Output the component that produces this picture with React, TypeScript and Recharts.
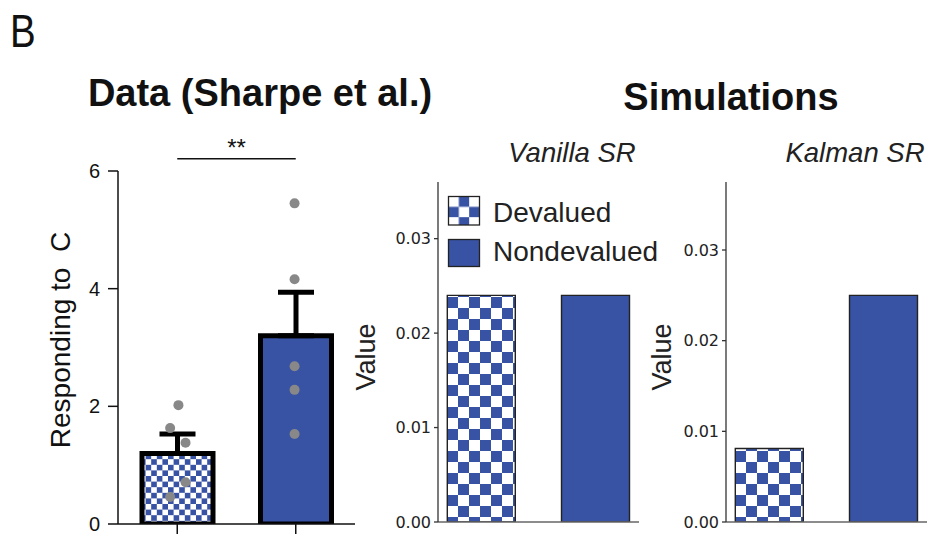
import React from 'react';
import {
  ComposedChart,
  Bar,
  Cell,
  XAxis,
  YAxis,
  Scatter,
  ErrorBar,
  ReferenceLine,
  Legend,
} from 'recharts';

// ---------- data ----------
const categories = ['Devalued', 'Nondevalued'];
const groupX = [1, 2];
const dataMeans = [1.2, 3.2];
const dataSem = [0.33, 0.74];
const devaluedPoints = [2.02, 1.63, 1.38, 0.71, 0.46];
const devaluedJitter = [0.01, -0.06, 0.07, 0.07, -0.06];
const nondevaluedPoints = [5.45, 4.16, 2.68, 2.28, 1.53];
const nondevaluedJitter = [-0.01, -0.01, -0.01, -0.01, -0.01];
const dataTicks = [0, 2, 4, 6];
const significanceLabel = '**';
const significanceLevel = 6.21;

const simX = [0, 1];
const vanillaValues = [0.024, 0.024];
const kalmanValues = [0.0081, 0.025];
const simTicks = [0, 0.01, 0.02, 0.03];

// ---------- styles ----------
const BLUE = '#3953A4';
const SANS = '"Liberation Sans", Arial, sans-serif';
const DEJAVU = '"DejaVu Sans", sans-serif';

const dataRows = categories.map((c, i) => ({
  x: groupX[i],
  name: c,
  mean: dataMeans[i],
  err: [0, dataSem[i]],
}));

const pointRows = [
  ...devaluedPoints.map((y, i) => ({ x: groupX[0] + devaluedJitter[i], y })),
  ...nondevaluedPoints.map((y, i) => ({ x: groupX[1] + nondevaluedJitter[i], y })),
];

const Checker = ({ id, size, x = 0, y = 0 }: { id: string; size: number; x?: number; y?: number }) => (
  <pattern id={id} x={x} y={y} width={size * 2} height={size * 2} patternUnits="userSpaceOnUse">
    <rect width={size * 2} height={size * 2} fill="#fff" />
    <rect x={size} y={0} width={size} height={size} fill={BLUE} />
    <rect x={0} y={size} width={size} height={size} fill={BLUE} />
  </pattern>
);

const Dot = (p: any) => <circle cx={p.cx} cy={p.cy} r={5} fill="#888888" />;
const NoTick = () => <g />;

function DataPanel() {
  const axisStyle = { stroke: '#111', strokeWidth: 1.5 };
  return (
    <ComposedChart
      width={370}
      height={534}
      data={dataRows}
      margin={{ top: 171, right: 15, bottom: 0, left: 0 }}
    >
      <defs>
        <Checker id="chkData" size={5.6} x={0} y={0} />
      </defs>
      <XAxis
        xAxisId="bars"
        type="number"
        dataKey="x"
        domain={[0.5, 2.5]}
        ticks={groupX}
        interval={0}
        tick={NoTick}
        tickSize={10}
        height={10}
        axisLine={axisStyle}
        tickLine={axisStyle}
        allowDataOverflow
      />
      <XAxis
        xAxisId="points"
        type="number"
        dataKey="x"
        domain={[0.5, 2.5]}
        hide
        allowDataOverflow
      />
      <YAxis
        type="number"
        domain={[0, 6]}
        ticks={dataTicks}
        interval={0}
        width={118}
        tickSize={10}
        tickMargin={8}
        tick={{ fontSize: 20, fill: '#111', fontFamily: SANS }}
        axisLine={axisStyle}
        tickLine={axisStyle}
        allowDataOverflow
      />
      <Bar xAxisId="bars" dataKey="mean" barSize={71} stroke="#000" strokeWidth={5} isAnimationActive={false}>
        {dataRows.map((r, i) => (
          <Cell key={r.name} fill={i === 0 ? 'url(#chkData)' : BLUE} />
        ))}
        <ErrorBar dataKey="err" width={18} strokeWidth={5} stroke="#000" direction="y" />
      </Bar>
      <Scatter xAxisId="points" data={pointRows} dataKey="y" isAnimationActive={false} shape={Dot} />
      <ReferenceLine
        xAxisId="bars"
        segment={[
          { x: groupX[0], y: significanceLevel },
          { x: groupX[1], y: significanceLevel },
        ]}
        stroke="#111"
        strokeWidth={1.5}
        ifOverflow="visible"
        label={{ value: significanceLabel, position: 'top', offset: 3, fontSize: 24, fill: '#111', fontFamily: SANS }}
      />
    </ComposedChart>
  );
}

const SimLegend = () => (
  <svg width={220} height={76} style={{ display: 'block', overflow: 'visible' }}>
    <defs>
      <Checker id="chkLegend" size={10.33} x={1.5} y={1.5} />
    </defs>
    {categories.map((c, i) => (
      <g key={c}>
        <rect
          x={1.5}
          y={i === 0 ? 1.5 : 44.5}
          width={31}
          height={i === 0 ? 28.5 : 27}
          fill={i === 0 ? 'url(#chkLegend)' : BLUE}
          stroke="#222"
          strokeWidth={1.3}
        />
        <text x={46} y={i === 0 ? 27 : 66} fontSize={28} fill="#222" fontFamily={SANS}>
          {c}
        </text>
      </g>
    ))}
  </svg>
);

function SimPanel({
  values,
  width,
  yAxisWidth,
  marginRight,
  patternId,
  showLegend,
}: {
  values: number[];
  width: number;
  yAxisWidth: number;
  marginRight: number;
  patternId: string;
  showLegend: boolean;
}) {
  const rows = categories.map((c, i) => ({ x: simX[i], name: c, value: values[i] }));
  const yMax = Math.max(...values) * 1.5;
  return (
    <ComposedChart
      width={width}
      height={534}
      data={rows}
      margin={{ top: 182, right: marginRight, bottom: 0, left: 0 }}
    >
      <defs>
        <Checker id={patternId} size={11} x={yAxisWidth + 9} y={0} />
      </defs>
      <XAxis
        type="number"
        dataKey="x"
        domain={[-0.38, 1.38]}
        ticks={simX}
        tick={false}
        tickLine={false}
        height={12}
        axisLine={{ stroke: '#666', strokeWidth: 1.4 }}
        allowDataOverflow
      />
      <YAxis
        type="number"
        domain={[0, yMax]}
        ticks={simTicks}
        interval={0}
        width={yAxisWidth}
        tickSize={4}
        tickMargin={3}
        tickFormatter={(v: number) => v.toFixed(2)}
        tick={{ fontSize: 16, fill: '#222', fontFamily: DEJAVU }}
        axisLine={{ stroke: '#333', strokeWidth: 1.3 }}
        tickLine={{ stroke: '#333', strokeWidth: 1.3 }}
        allowDataOverflow
      />
      <Bar dataKey="value" barSize={68} stroke="#222" strokeWidth={1.4} isAnimationActive={false}>
        {rows.map((r, i) => (
          <Cell key={r.name} fill={i === 0 ? `url(#${patternId})` : BLUE} />
        ))}
      </Bar>
      {showLegend && (
        <Legend
          layout="vertical"
          align="center"
          verticalAlign="middle"
          wrapperStyle={{ left: 107, top: 195, width: 220, height: 76 }}
          content={() => <SimLegend />}
        />
      )}
    </ComposedChart>
  );
}

export default function App() {
  return (
    <div
      style={{
        position: 'absolute',
        left: 0,
        top: 0,
        width: 931,
        height: 534,
        background: '#fff',
        overflow: 'hidden',
      }}
    >
      <div style={{ position: 'absolute', left: 0, top: 0 }}>
        <DataPanel />
      </div>
      <div style={{ position: 'absolute', left: 340, top: 0 }}>
        <SimPanel
          values={vanillaValues}
          width={310}
          yAxisWidth={98}
          marginRight={11}
          patternId="chkVanilla"
          showLegend
        />
      </div>
      <div style={{ position: 'absolute', left: 650, top: 0 }}>
        <SimPanel
          values={kalmanValues}
          width={281}
          yAxisWidth={76}
          marginRight={4}
          patternId="chkKalman"
          showLegend={false}
        />
      </div>
      <svg
        width={931}
        height={534}
        style={{ position: 'absolute', left: 0, top: 0, pointerEvents: 'none' }}
      >
        <text
          x={0}
          y={0}
          fontSize={47}
          fill="#111"
          fontFamily={SANS}
          transform="translate(10 47) scale(0.82 1)"
        >
          B
        </text>
        <text x={260} y={106} fontSize={38} fontWeight="bold" fill="#111" textAnchor="middle" fontFamily={SANS}>
          Data (Sharpe et al.)
        </text>
        <text x={731} y={110} fontSize={38} fontWeight="bold" fill="#111" textAnchor="middle" fontFamily={SANS}>
          Simulations
        </text>
        <text x={572} y={162} fontSize={27.5} fontStyle="italic" fill="#222" textAnchor="middle" fontFamily={SANS}>
          Vanilla SR
        </text>
        <text x={855} y={162} fontSize={27.5} fontStyle="italic" fill="#222" textAnchor="middle" fontFamily={SANS}>
          Kalman SR
        </text>
        <text
          x={70}
          y={340}
          fontSize={28}
          fill="#111"
          textAnchor="middle"
          fontFamily={SANS}
          transform="rotate(-90 70 340)"
          style={{ whiteSpace: 'pre' }}
        >
          {'Responding to  C'}
        </text>
        <text x={375} y={357} fontSize={27} fill="#222" textAnchor="middle" fontFamily={SANS} transform="rotate(-90 375 357)">
          Value
        </text>
        <text x={671} y={357} fontSize={27} fill="#222" textAnchor="middle" fontFamily={SANS} transform="rotate(-90 671 357)">
          Value
        </text>
      </svg>
    </div>
  );
}
